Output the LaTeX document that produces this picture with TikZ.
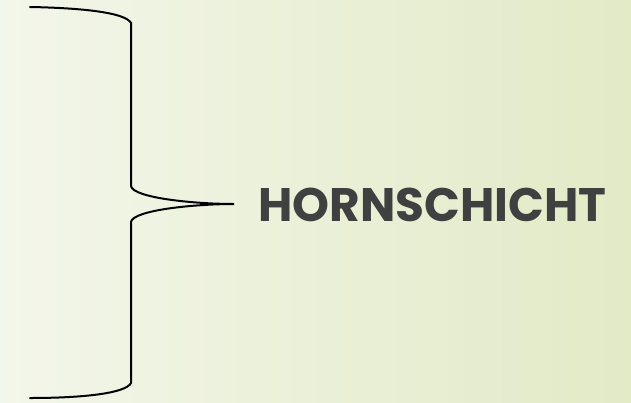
\documentclass[tikz,border=0pt]{standalone}
\usepackage{fontspec}
\setsansfont{Poppins}
\usepackage{xcolor}
\usetikzlibrary{positioning, calc}
\definecolor{bgleft}{HTML}{F3F6EA}
\definecolor{bgright}{HTML}{E2EAC6}
\definecolor{labelgrey}{HTML}{404040}

\begin{document}
\begin{tikzpicture}[
    x=1pt, y=-1pt,
    brace/.style={line width=2pt, black, line cap=round},
    layer/.style={font=\sffamily\bfseries\fontsize{47}{50}\selectfont, text=labelgrey, inner sep=0pt, anchor=west}
]
\shade[left color=bgleft, right color=bgright] (0,0) rectangle (631,402);
\useasboundingbox (0,0) rectangle (631,402);

\coordinate (tip) at (234,204);
\node[layer] (horn) at (258,205) {HORNSCHICHT};

% brace
\draw[brace] (30,7) .. controls (85,8) and (126,13) .. (131,23)
    -- (131,186) .. controls (133,198) and (195,204) .. (tip)
    .. controls (195,204) and (133,210) .. (131,222)
    -- (131,383) .. controls (126,393) and (85,398) .. (30,398);
\end{tikzpicture}
\end{document}
